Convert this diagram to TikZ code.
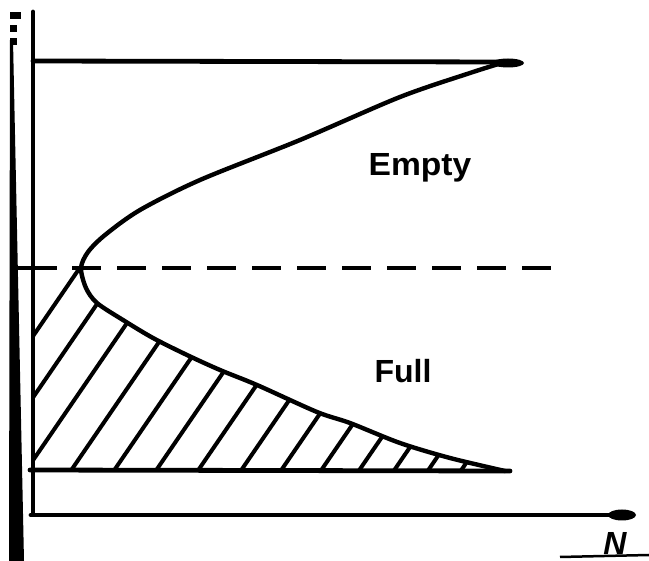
\documentclass[tikz,border=0pt]{standalone}
\usepackage{fontspec}
\setmainfont{Liberation Sans}
\begin{document}
\begin{tikzpicture}[x=1pt,y=-1pt,
  ax/.style={line width=4.8pt,line cap=round},
  crv/.style={line width=4.4pt,line cap=round,line join=round},
  hatchline/.style={line width=4pt},
  lbl/.style={font=\fontsize{32}{32}\selectfont\bfseries,inner sep=0pt,anchor=base}]
\useasboundingbox (0,0) rectangle (649,561);
% scan edge wedge and marks
\fill (10,40) -- (13,40) -- (24,561) -- (9,561) -- cycle;
\fill (10,12) rectangle (21,19);
\fill (10,25) rectangle (17,32);
\fill (10,38) rectangle (17,45);
% axes
\draw[ax] (33,12) -- (33,512);
\draw[ax] (31,515) -- (615,515);
\fill (622,515) ellipse [x radius=14,y radius=5.5];
% top and bottom limit lines
\draw[ax] (33,61) -- (505,62);
\fill (508,63) ellipse [x radius=16,y radius=4.5];
\draw[ax] (30,470) -- (510,471);
% dashed line
\draw[line width=4.4pt] (15,268) -- (57,268);
\draw[line width=4.4pt,dash pattern=on 29pt off 16pt] (72,268) -- (555,268);
% hatching
\begin{scope}
\clip (33,268) -- (81,268) -- plot[smooth] coordinates {(81,268) (86,288) (97,303) (123,320) (153,338) (187,355) (220,370) (257,385) (317,412) (350,423) (400,443) (450,458) (505,471)} -- (505,470) -- (33,470) -- cycle;
\foreach \b in {-60,-18,25,70,113,155,197,240,280,320,358,393,427,460,490}
  \draw[hatchline] (\b,472) -- ({\b+152},250);
\end{scope}
% curve
\draw[crv] plot[smooth] coordinates {(505,62) (470,73) (400,97) (300,140) (200,180) (140,210) (105,235) (88,252) (81,268) (86,288) (97,303) (123,320) (153,338) (187,355) (220,370) (257,385) (317,412) (350,423) (400,443) (450,458) (505,471)};
% labels
\node[lbl] (empty) at (420,176) {\scalebox{1.05}[1]{Empty}};
\node[lbl] (full) at (403,383) {Full};
\node[lbl,font=\fontsize{32}{32}\selectfont\bfseries\itshape] (n) at (615,555) {N};
\draw[line width=2.5pt] (560,557) -- (649,555);
\end{tikzpicture}
\end{document}
